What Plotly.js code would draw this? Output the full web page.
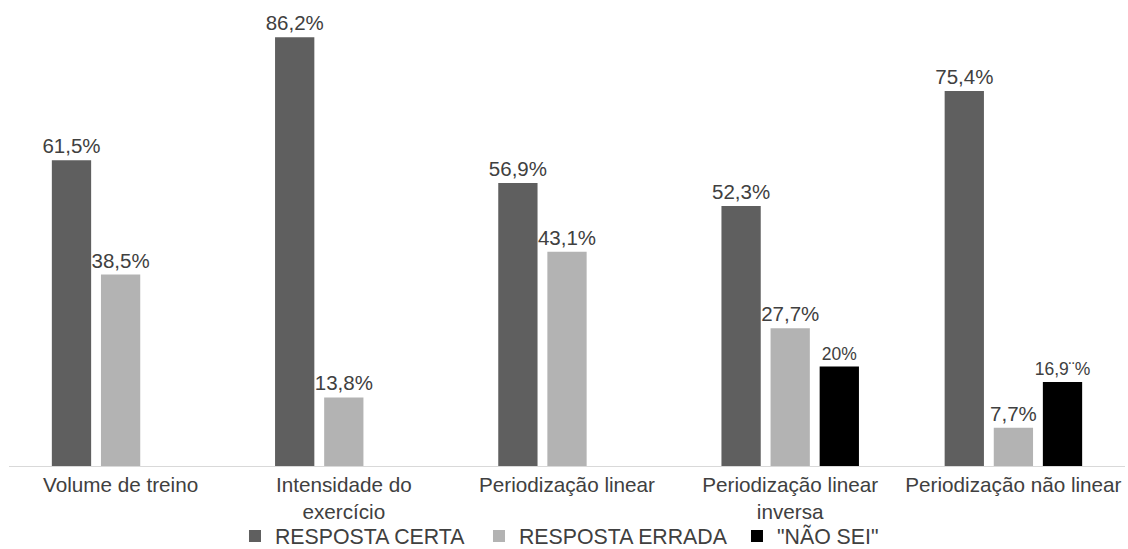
<!DOCTYPE html>
<html>
<head>
<meta charset="utf-8">
<script src="https://cdn.plot.ly/plotly-3.0.1.min.js"></script>
<style>html,body{margin:0;padding:0;background:#fff;}#chart{width:1128px;height:549px;}</style>
</head>
<body>
<div id="chart"></div>
<script>
const categories = ['Volume de treino', 'Intensidade do<br>exercício', 'Periodização linear', 'Periodização linear<br>inversa', 'Periodização não linear'];
const respostaCerta = [61.5, 86.2, 56.9, 52.3, 75.4];
const respostaErrada = [38.5, 13.8, 43.1, 27.7, 7.7];
const naoSei = [null, null, null, 20, 16.9];
const labelsCerta = ['61,5%', '86,2%', '56,9%', '52,3%', '75,4%'];
const labelsErrada = ['38,5%', '13,8%', '43,1%', '27,7%', '7,7%'];
const labelsNaoSei = ['', '', '', '20%', '16,9¨%'];
const seriesNames = ['RESPOSTA CERTA', 'RESPOSTA ERRADA', '"NÃO SEI"'];

const FONT = 'Liberation Sans, Arial, sans-serif';
const TXT = '#404040';
function mk(name, y, text, color, fsize, lw) {
  return {
    type: 'bar', name: name, x: categories, y: y, text: text,
    textposition: 'outside', cliponaxis: false, constraintext: 'none',
    textfont: {family: FONT, size: fsize, color: TXT},
    marker: {color: color, line: {width: 0}},
    legendwidth: lw,
    hoverinfo: 'none'
  };
}
const data = [
  mk(seriesNames[0], respostaCerta, labelsCerta, '#5f5f5f', 20.5, 199),
  mk(seriesNames[1], respostaErrada, labelsErrada, '#b3b3b3', 20.5, 213),
  mk(seriesNames[2], naoSei, labelsNaoSei, '#000000', 17.5, 115)
];
const layout = {
  width: 1128, height: 549,
  margin: {l: 9, r: 3, t: 10, b: 83, autoexpand: false},
  paper_bgcolor: '#ffffff', plot_bgcolor: '#ffffff',
  font: {family: FONT, size: 20.7, color: TXT},
  barmode: 'group', bargap: 0.34, bargroupgap: 0.2,
  showlegend: true,
  legend: {orientation: 'h', x: 0.2025, xanchor: 'left', y: -0.154, yanchor: 'middle',
           bgcolor: 'rgba(0,0,0,0)', borderwidth: 0,
           font: {family: FONT, size: 21.3, color: TXT}, traceorder: 'normal'},
  xaxis: {type: 'category', showline: true, linecolor: '#d9d9d9', linewidth: 1, ticks: '', showgrid: false, zeroline: false,
          ticklabelstandoff: 0, tickfont: {family: FONT, size: 20.7, color: TXT}},
  yaxis: {range: [0, 91.7], showticklabels: false, showgrid: false, zeroline: false, showline: false, ticks: ''}
};
Plotly.newPlot('chart', data, layout, {displayModeBar: false, staticPlot: true});
</script>
</body>
</html>
